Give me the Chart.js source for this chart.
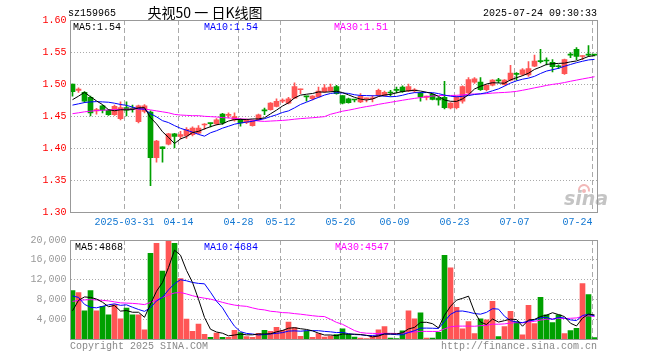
<!DOCTYPE html>
<html lang="zh-CN">
<head>
<meta charset="UTF-8">
<title>央视50 日K线图</title>
<script src="https://cdn.jsdelivr.net/npm/chart.js"></script>
<style>
    body { margin: 0; padding: 0; background: #fff; }
    #wrap { position: relative; width: 660px; height: 360px; }
    #priceChart { position: absolute; left: 0; top: 0; }
    #volChart { position: absolute; left: 0; top: 230px; }
</style>
</head>
<body>
<div id="wrap">
    <canvas id="priceChart" width="660" height="230"></canvas>
    <canvas id="volChart" width="660" height="130"></canvas>
</div>
<script>
    // trading days shown on the chart
    const dates = [
        '2025-03-18','2025-03-19','2025-03-20','2025-03-21','2025-03-24','2025-03-25','2025-03-26','2025-03-27','2025-03-28','2025-03-31',
        '2025-04-01','2025-04-02','2025-04-03','2025-04-07','2025-04-08','2025-04-09','2025-04-10','2025-04-11','2025-04-14','2025-04-15',
        '2025-04-16','2025-04-17','2025-04-18','2025-04-21','2025-04-22','2025-04-23','2025-04-24','2025-04-25','2025-04-28','2025-04-29',
        '2025-04-30','2025-05-06','2025-05-07','2025-05-08','2025-05-09','2025-05-12','2025-05-13','2025-05-14','2025-05-15','2025-05-16',
        '2025-05-19','2025-05-20','2025-05-21','2025-05-22','2025-05-23','2025-05-26','2025-05-27','2025-05-28','2025-05-29','2025-05-30',
        '2025-06-03','2025-06-04','2025-06-05','2025-06-06','2025-06-09','2025-06-10','2025-06-11','2025-06-12','2025-06-13','2025-06-16',
        '2025-06-17','2025-06-18','2025-06-19','2025-06-20','2025-06-23','2025-06-24','2025-06-25','2025-06-26','2025-06-27','2025-06-30',
        '2025-07-01','2025-07-02','2025-07-03','2025-07-04','2025-07-07','2025-07-08','2025-07-09','2025-07-10','2025-07-11','2025-07-14',
        '2025-07-15','2025-07-16','2025-07-17','2025-07-18','2025-07-21','2025-07-22','2025-07-23','2025-07-24'
    ];

    const openP = [
        1.500,1.490,1.487,1.479,1.458,1.466,1.459,1.452,1.446,1.463,
        1.462,1.441,1.457,1.456,1.385,1.402,1.406,1.422,1.418,1.419,
        1.421,1.423,1.436,1.439,1.4375,1.453,1.451,1.444,1.444,1.440,
        1.435,1.444,1.459,1.460,1.465,1.473,1.470,1.478,1.491,1.481,
        1.477,1.480,1.488,1.489,1.496,1.482,1.477,1.476,1.472,1.477,
        1.477,1.482,1.482,1.487,1.491,1.495,1.489,1.489,1.486,1.479,
        1.484,1.478,1.479,1.4625,1.463,1.473,1.486,1.503,1.503,1.491,
        1.498,1.506,1.499,1.506,1.516,1.515,1.514,1.528,1.536,1.537,
        1.534,1.528,1.516,1.546,1.554,1.543,1.546,1.546
    ];
    const highP = [
        1.500,1.494,1.488,1.481,1.462,1.467,1.460,1.467,1.472,1.472,
        1.467,1.467,1.468,1.458,1.412,1.402,1.423,1.423,1.426,1.432,
        1.433,1.435,1.438,1.439,1.446,1.454,1.455,1.455,1.446,1.445,
        1.444,1.453,1.4625,1.471,1.477,1.477,1.479,1.502,1.492,1.481,
        1.482,1.495,1.499,1.500,1.498,1.482,1.478,1.476,1.485,1.478,
        1.482,1.492,1.489,1.490,1.495,1.497,1.500,1.493,1.487,1.481,
        1.485,1.479,1.504,1.471,1.481,1.497,1.510,1.510,1.510,1.499,
        1.507,1.509,1.507,1.529,1.518,1.524,1.535,1.545,1.554,1.541,
        1.538,1.530,1.539,1.549,1.557,1.544,1.560,1.546
    ];
    const lowP = [
        1.481,1.487,1.471,1.450,1.453,1.455,1.451,1.451,1.444,1.450,
        1.456,1.439,1.455,1.341,1.378,1.378,1.405,1.400,1.414,1.415,
        1.419,1.422,1.429,1.433,1.436,1.437,1.447,1.442,1.434,1.438,
        1.434,1.443,1.452,1.459,1.464,1.471,1.469,1.477,1.485,1.473,
        1.475,1.479,1.487,1.488,1.484,1.469,1.470,1.472,1.471,1.472,
        1.472,1.481,1.481,1.481,1.486,1.487,1.488,1.487,1.473,1.475,
        1.475,1.467,1.461,1.461,1.461,1.470,1.485,1.501,1.490,1.489,
        1.497,1.502,1.498,1.505,1.506,1.513,1.512,1.527,1.533,1.530,
        1.519,1.524,1.515,1.541,1.538,1.538,1.543,1.544
    ];
    const closeP = [
        1.488,1.492,1.473,1.455,1.460,1.459,1.452,1.465,1.463,1.459,
        1.461,1.466,1.466,1.385,1.411,1.399,1.422,1.418,1.421,1.429,
        1.431,1.431,1.4375,1.438,1.444,1.439,1.452,1.449,1.439,1.444,
        1.443,1.452,1.458,1.470,1.473,1.475,1.477,1.496,1.492,1.480,
        1.481,1.489,1.494,1.495,1.485,1.470,1.471,1.475,1.481,1.478,
        1.478,1.490,1.487,1.486,1.490,1.488,1.496,1.491,1.480,1.481,
        1.476,1.475,1.463,1.470,1.480,1.496,1.507,1.508,1.491,1.498,
        1.506,1.505,1.506,1.517,1.515,1.522,1.524,1.536,1.535,1.536,
        1.527,1.527,1.538,1.545,1.543,1.544,1.545,1.545
    ];

    const ma5 = [
        1.4755,1.481,1.487,1.480,1.4736,1.4678,1.4598,1.4582,1.4598,1.4596,
        1.460,1.4628,1.463,1.4474,1.4378,1.4254,1.4166,1.407,1.4142,1.4178,
        1.4242,1.426,1.4299,1.4333,1.4363,1.4379,1.4421,1.4444,1.4446,1.4446,
        1.4454,1.4454,1.4472,1.4534,1.4592,1.4656,1.4706,1.4782,1.4826,1.484,
        1.4852,1.4876,1.4872,1.4878,1.4888,1.4866,1.483,1.4792,1.4764,1.475,
        1.4766,1.4804,1.4828,1.4838,1.4862,1.4882,1.4894,1.4902,1.489,1.4872,
        1.4848,1.4806,1.475,1.473,1.4728,1.4768,1.4832,1.4922,1.4964,1.500,
        1.502,1.5016,1.5012,1.5064,1.5098,1.513,1.5168,1.5228,1.5264,1.5306,
        1.5316,1.5322,1.5326,1.5346,1.536,1.5394,1.543,1.5444
    ];
    const ma10 = [
        1.467,1.469,1.471,1.472,1.4725,1.472,1.4715,1.470,1.468,1.4666,
        1.4639,1.4613,1.4606,1.4536,1.4487,1.4427,1.4397,1.435,1.4308,1.4278,
        1.4248,1.4213,1.4185,1.4238,1.427,1.431,1.434,1.4372,1.439,1.4405,
        1.4417,1.4438,1.4458,1.449,1.4519,1.4555,1.458,1.4627,1.468,1.4716,
        1.4754,1.4791,1.4827,1.4852,1.4864,1.4859,1.4853,1.4832,1.4821,1.4819,
        1.4816,1.4817,1.481,1.4801,1.4806,1.4824,1.4849,1.4865,1.4864,1.4867,
        1.4865,1.485,1.4826,1.481,1.480,1.4808,1.4819,1.4836,1.4847,1.4864,
        1.4894,1.4924,1.4967,1.5014,1.5049,1.5075,1.5092,1.512,1.5164,1.5202,
        1.5223,1.5245,1.5277,1.5305,1.5333,1.5355,1.5376,1.5385
    ];
    const ma30 = [
        1.4536,1.455,1.4565,1.4575,1.4585,1.459,1.4595,1.460,1.4603,1.4606,
        1.461,1.461,1.461,1.4595,1.458,1.4565,1.455,1.4525,1.4515,1.451,
        1.4505,1.4505,1.4495,1.449,1.4485,1.4475,1.447,1.4462,1.4456,1.445,
        1.4435,1.4421,1.4416,1.4421,1.4426,1.4431,1.4439,1.445,1.4459,1.4466,
        1.4473,1.4481,1.449,1.4527,1.4551,1.4575,1.4591,1.461,1.463,1.4647,
        1.4662,1.4682,1.4698,1.4714,1.473,1.4746,1.4761,1.4775,1.4788,1.4801,
        1.4812,1.4819,1.4821,1.4821,1.4823,1.483,1.484,1.4844,1.4844,1.485,
        1.4858,1.4864,1.4868,1.4875,1.4885,1.4902,1.492,1.494,1.4958,1.4978,
        1.4994,1.5006,1.5023,1.5043,1.5061,1.5079,1.5096,1.5114
    ];

    const volume = [
        9780,9370,5700,9780,5700,6590,4890,6930,4070,6250,
        4890,4890,1830,17320,19350,13720,20000,19350,12220,4000,
        1560,2990,950,340,1220,340,340,1770,1290,480,
        340,1160,1770,1560,2380,1770,3400,2310,540,1630,
        340,1090,410,600,900,2040,950,410,200,100,
        480,1830,2510,200,100,1630,5700,4070,5300,200,
        200,1360,16900,14400,6380,2040,3530,1090,4070,3870,
        7600,480,2510,5570,3530,820,6790,3120,8420,4890,
        3330,4890,1090,1700,2170,11200,8960,300
    ];
    const volMa5 = [
        5700,7800,8500,8400,8066,7428,6532,6778,5636,5746,
        5406,5406,4386,7036,9656,11422,14444,17948,16928,13858,
        11426,8024,4344,1968,1412,1168,638,802,992,844,
        844,1008,1008,1062,1442,1728,2176,2284,2080,1930,
        1644,1182,802,814,668,1008,980,980,900,740,
        428,604,1024,1024,1024,1254,2028,2340,3360,3380,
        3094,2226,4792,6612,7848,8216,8650,5488,3422,2920,
        4032,3422,3706,4006,3936,2580,3842,3966,4536,4808,
        5310,4930,4524,3180,2636,4210,5024,4868
    ];
    const volMa10 = [
        8700,8400,7000,6400,6300,6600,6900,7100,6800,6906,
        6417,5969,5582,6336,7701,8414,9925,11167,11982,11757,
        11424,11234,11146,9448,7635,6297,4331,2573,1480,1128,
        1006,823,905,1027,1143,1286,1592,1646,1571,1686,
        1686,1679,1543,1447,1299,1326,1081,891,857,704,
        718,792,1002,962,882,841,1316,1682,2192,2202,
        2174,2127,3566,4986,5614,5655,5438,5140,5017,5384,
        6124,6036,4597,3714,3429,3307,3633,3836,4271,4373,
        3946,4387,4245,3858,3722,4760,4977,4684
    ];
    const volMa30 = [
        7600,7800,7900,7950,7900,7800,7700,7500,7300,7250,
        7200,7100,6950,7400,7900,8400,8900,9300,9400,9100,
        8750,8450,8250,8050,7750,7400,7100,6850,6700,6597,
        6282,6009,5878,5604,5493,5332,5283,5129,5011,4857,
        4705,4579,4531,3974,3359,2970,2335,1703,1303,1173,
        1137,1098,1150,1145,1108,1151,1330,1406,1540,1531,
        1526,1533,2037,2465,2598,2607,2612,2571,2689,2763,
        3005,2985,3055,3221,3308,3268,3462,3553,3827,3986,
        4081,4183,4136,4186,4255,4574,4683,4547
    ];

    const tickDates = ['2025-03-31','2025-04-14','2025-04-28','2025-05-12','2025-05-26','2025-06-09','2025-06-23','2025-07-07','2025-07-24'];
    const tickLabels = ['2025-03-31','04-14','04-28','05-12','05-26','06-09','06-23','07-07','07-24'];
    const priceTicks = [1.30, 1.35, 1.40, 1.45, 1.50, 1.55, 1.60];
    const volTicks = [4000, 8000, 12000, 16000, 20000];

    const UP = '#ff5555';
    const DOWN = '#00a000';
    const MONO = '"Liberation Mono", "DejaVu Sans Mono", monospace';

    Chart.defaults.font.family = MONO;
    Chart.defaults.font.size = 10;
    Chart.defaults.animation = false;

    // sina draws each candle starting at the day's grid line, so the centre sits a third of a slot in
    const slot = i => i + 1 / 3;
    const candleColors = closeP.map((c, i) => c >= openP[i] ? UP : DOWN);
    const lastOf = arr => arr[arr.length - 1];

    function xAxis(showLabels) {
        return {
            type: 'linear',
            bounds: 'data',
            offset: false,
            min: 0,
            max: dates.length - 0.25,
            afterBuildTicks: s => { s.ticks = tickDates.map(d => ({ value: dates.indexOf(d) })); },
            afterFit: s => { s.height = showLabels ? 18 : 21; },
            grid: { color: '#aaa', drawTicks: false, offset: false },
            border: { display: false, dash: [5, 3] },
            ticks: {
                display: showLabels,
                autoSkip: false,
                maxRotation: 0,
                padding: 4,
                color: '#1478d2',
                callback: (v, idx) => tickLabels[idx]
            }
        };
    }

    function maLine(values, color) {
        return {
            type: 'line',
            data: values.map((v, i) => ({ x: slot(i), y: v })),
            borderColor: color,
            borderWidth: 1,
            pointRadius: 0,
            tension: 0,
            order: 0
        };
    }

    function drawFrame(chart) {
        const { ctx, chartArea: a } = chart;
        ctx.save();
        ctx.strokeStyle = '#999';
        ctx.lineWidth = 1;
        const l = Math.floor(a.left) + 0.5, t = Math.floor(a.top) + 0.5;
        const r = Math.floor(a.right) + 0.5, b = Math.floor(a.bottom) + 0.5;
        ctx.strokeRect(l, t, r - l, b - t);
        ctx.restore();
    }

    function text(ctx, str, x, y, color, font, align) {
        ctx.fillStyle = color;
        ctx.font = font;
        ctx.textAlign = align || 'left';
        ctx.textBaseline = 'middle';
        ctx.fillText(str, x, y);
    }

    const pricePlugin = {
        id: 'priceDecor',
        beforeDraw(chart) {
            // the last date label sits left of its grid line so it stays inside the frame
            const items = chart.scales.x.getLabelItems();
            if (items.length) items[items.length - 1].options.textAlign = 'right';
        },
        beforeDatasetsDraw(chart) {
            // faint sina logo in the lower right corner
            const ctx = chart.ctx;
            ctx.save();
            ctx.strokeStyle = '#f2b8b8';
            ctx.lineWidth = 2;
            ctx.beginPath();
            ctx.arc(584, 190, 5, Math.PI * 0.9, Math.PI * 2.1);
            ctx.stroke();
            ctx.fillStyle = '#f2b8b8';
            ctx.beginPath();
            ctx.arc(584, 191, 2, 0, Math.PI * 2);
            ctx.fill();
            ctx.fillStyle = '#c4c4c4';
            ctx.font = 'italic bold 19px "DejaVu Sans", sans-serif';
            ctx.textAlign = 'left';
            ctx.textBaseline = 'alphabetic';
            ctx.fillText('sina', 564, 205);
            ctx.restore();
        },
        afterDatasetsDraw(chart) { drawFrame(chart); },
        afterDraw(chart) {
            const ctx = chart.ctx;
            ctx.save();
            text(ctx, 'sz159965', 68, 13, '#000', '10px ' + MONO);
            text(ctx, '央视50 一 日K线图', 205, 13, '#000', '14px "Noto Sans CJK SC", sans-serif', 'center');
            text(ctx, '2025-07-24 09:30:33', 597, 13, '#000', '10px ' + MONO, 'right');
            text(ctx, 'MA5:' + lastOf(ma5).toFixed(2), 73, 27, '#000', '10px ' + MONO);
            text(ctx, 'MA10:' + lastOf(ma10).toFixed(2), 204, 27, '#0000ff', '10px ' + MONO);
            text(ctx, 'MA30:' + lastOf(ma30).toFixed(2), 334, 27, '#ff00ff', '10px ' + MONO);
            ctx.restore();
        }
    };

    const volPlugin = {
        id: 'volDecor',
        afterDatasetsDraw(chart) { drawFrame(chart); },
        afterDraw(chart) {
            const ctx = chart.ctx;
            ctx.save();
            text(ctx, 'MA5:' + lastOf(volMa5), 75, 17, '#000', '10px ' + MONO);
            text(ctx, 'MA10:' + lastOf(volMa10), 204, 17, '#0000ff', '10px ' + MONO);
            text(ctx, 'MA30:' + lastOf(volMa30), 335, 17, '#ff00ff', '10px ' + MONO);
            text(ctx, 'Copyright 2025 SINA.COM', 70, 116, '#888', '10px ' + MONO);
            text(ctx, 'http://finance.sina.com.cn', 597, 116, '#888', '10px ' + MONO, 'right');
            ctx.restore();
        }
    };

    new Chart(document.getElementById('priceChart'), {
        type: 'bar',
        data: {
            datasets: [
                maLine(ma5, '#000000'),
                maLine(ma10, '#0000ff'),
                maLine(ma30, '#ff00ff'),
                {
                    // candle bodies
                    data: openP.map((o, i) => ({ x: slot(i), y: [o, closeP[i]] })),
                    backgroundColor: candleColors,
                    barThickness: 5,
                    minBarLength: 1,
                    grouped: false,
                    order: 1
                },
                {
                    // wicks
                    data: highP.map((h, i) => ({ x: slot(i), y: [lowP[i], h] })),
                    backgroundColor: candleColors,
                    barThickness: 1,
                    grouped: false,
                    order: 2
                }
            ]
        },
        options: {
            responsive: false,
            events: [],
            layout: { padding: { left: 0, right: 63, top: 20, bottom: 0 } },
            plugins: { legend: { display: false }, tooltip: { enabled: false } },
            scales: {
                x: xAxis(true),
                y: {
                    min: 1.30,
                    max: 1.60,
                    afterBuildTicks: s => { s.ticks = priceTicks.map(v => ({ value: v })); },
                    afterFit: s => { s.width = 70.5; },
                    grid: { color: '#aaa', drawTicks: false },
                    border: { display: false, dash: [1, 2] },
                    ticks: { color: '#ff0000', padding: 4, callback: v => v.toFixed(2) }
                }
            }
        },
        plugins: [pricePlugin]
    });

    new Chart(document.getElementById('volChart'), {
        type: 'bar',
        data: {
            datasets: [
                maLine(volMa5, '#000000'),
                maLine(volMa10, '#0000ff'),
                maLine(volMa30, '#ff00ff'),
                {
                    data: volume.map((v, i) => ({ x: slot(i), y: v })),
                    backgroundColor: candleColors,
                    barThickness: 5,
                    grouped: false,
                    order: 1
                }
            ]
        },
        options: {
            responsive: false,
            events: [],
            layout: { padding: { left: 0, right: 63, top: 10, bottom: 0 } },
            plugins: { legend: { display: false }, tooltip: { enabled: false } },
            scales: {
                x: xAxis(false),
                y: {
                    min: 0,
                    max: 20000,
                    afterBuildTicks: s => { s.ticks = volTicks.map(v => ({ value: v })); },
                    afterFit: s => { s.width = 70.5; },
                    grid: { color: '#aaa', drawTicks: false },
                    border: { display: false, dash: [1, 2] },
                    ticks: { color: '#999', padding: 4 }
                }
            }
        },
        plugins: [volPlugin]
    });
</script>
</body>
</html>
